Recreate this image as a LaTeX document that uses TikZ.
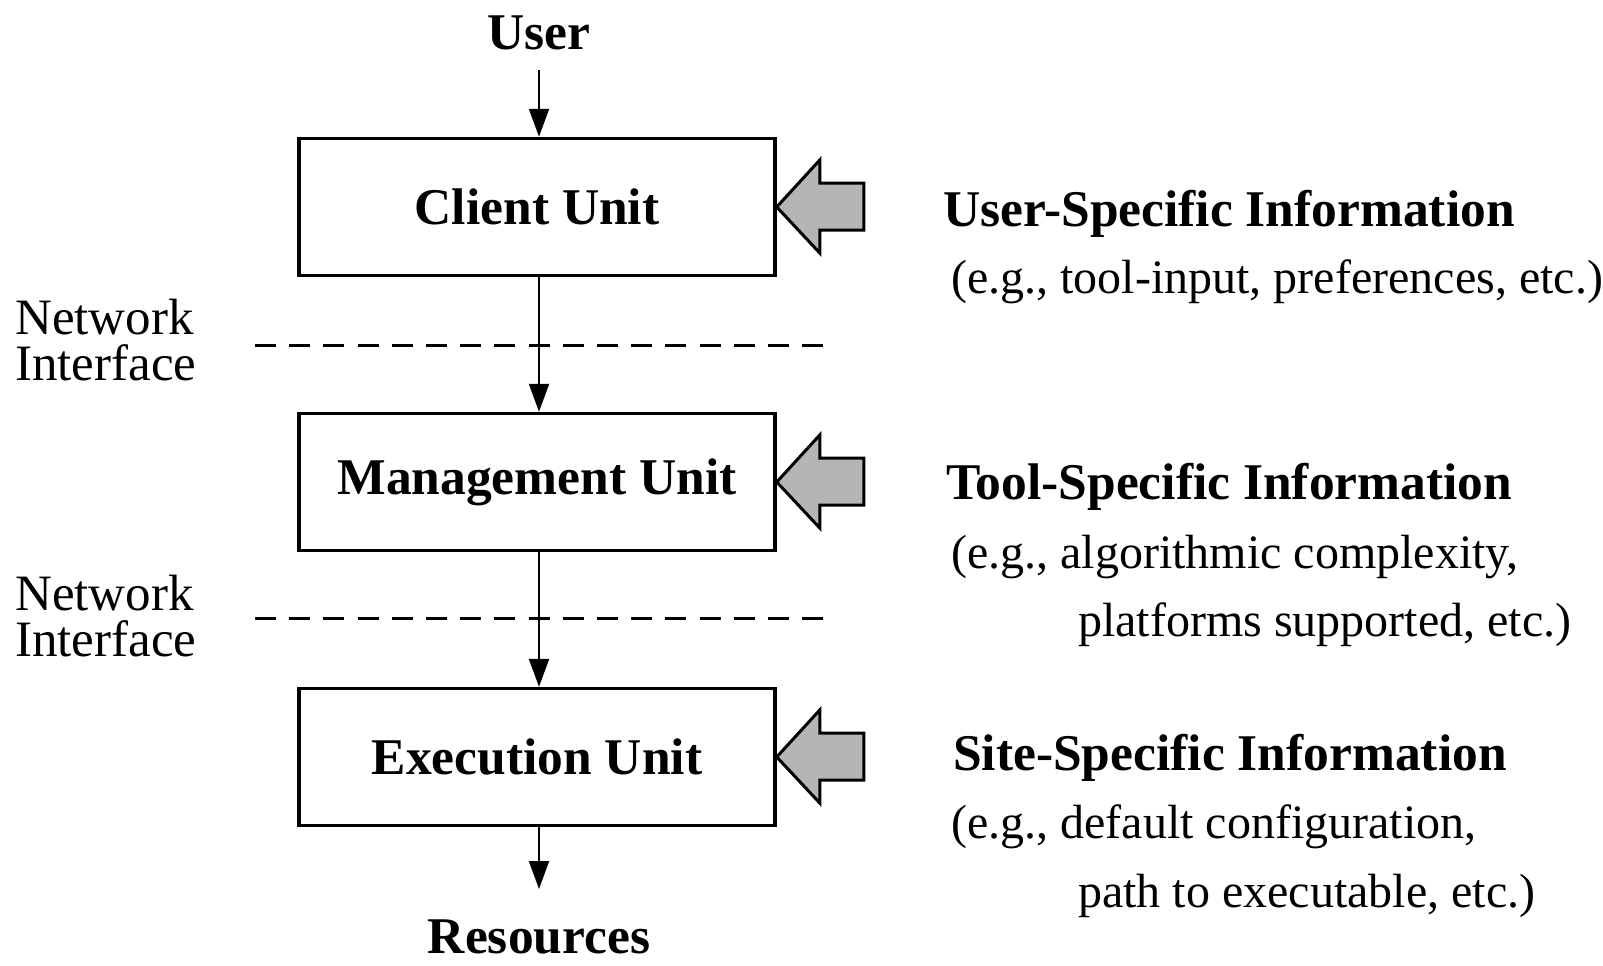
\documentclass[tikz,border=0pt]{standalone}
\usepackage{fontspec}
\setmainfont{Liberation Serif}
\usetikzlibrary{arrows.meta}
\tikzset{
  unitbox/.style={draw, line width=3.5pt, minimum width=476pt, minimum height=137pt, inner sep=0pt},
  flow/.style={line width=2.2pt, -{Triangle[width=20pt,length=28pt]}},
  netline/.style={line width=2.8pt, dash pattern=on 21pt off 13.2pt},
  title/.style={font=\fontsize{51.5}{55}\selectfont\bfseries, inner sep=0pt},
  info/.style={font=\fontsize{51.5}{55}\selectfont\bfseries, inner sep=0pt, anchor=base west},
  note/.style={font=\fontsize{48}{52}\selectfont, inner sep=0pt, anchor=base west},
  netlabel/.style={font=\fontsize{51}{55}\selectfont, inner sep=0pt, anchor=base west},
  feed/.style={draw, line width=3pt, fill=black!29, line join=miter}
}
\newcommand{\feedarrow}[1]{%
  \draw[feed] (#1.east) -- ++(43pt,-46pt) -- ++(0,23pt) -- ++(44pt,0) -- ++(0,47pt)
    -- ++(-44pt,0) -- ++(0,23pt) -- cycle;}
\begin{document}
\begin{tikzpicture}[x=1pt,y=-1pt]
  \useasboundingbox (0,0) rectangle (1603,966);

  % users and resources
  \node[title, anchor=base] (user) at (539,49) {User};
  \node[title, anchor=base] (res) at (539,953) {Resources};

  % the three units
  \node[unitbox, title] (client) at (537,207) {Client Unit};
  \node[unitbox, title] (mgmt) at (537,482) {Management Unit};
  \node[unitbox, title] (exec) at (537,757) {Execution Unit};

  % vertical flow
  \coordinate (uin) at (539,70);
  \coordinate (rout) at (539,889);
  \draw[flow] (uin) -- (uin |- client.north);
  \draw[flow] (client.south -| uin) -- (mgmt.north -| uin);
  \draw[flow] (mgmt.south -| uin) -- (exec.north -| uin);
  \draw[flow] (exec.south -| uin) -- (rout);

  % network interfaces
  \coordinate (n1a) at (255,345.5);
  \coordinate (n1b) at (823,345.5);
  \coordinate (n2a) at (255,618.5);
  \coordinate (n2b) at (823,618.5);
  \draw[netline] (n1a) -- (n1b);
  \draw[netline] (n2a) -- (n2b);
  \node[netlabel] (net1) at (15,334) {Network};
  \node[netlabel] (int1) at (15,380) {Interface};
  \node[netlabel] (net2) at (15,610) {Network};
  \node[netlabel] (int2) at (15,656) {Interface};

  % information fed into each unit
  \feedarrow{client}
  \feedarrow{mgmt}
  \feedarrow{exec}

  \node[info] (usi) at (943,226) {User-Specific Information};
  \node[note] (usn) at (951,293) {(e.g., tool-input, preferences, etc.)};

  \node[info] (tsi) at (946,499) {Tool-Specific Information};
  \node[note] (tsn1) at (951,568) {(e.g., algorithmic complexity,};
  \node[note] (tsn2) at (1078,636) {platforms supported, etc.)};

  \node[info] (ssi) at (953,770) {Site-Specific Information};
  \node[note] (ssn1) at (951,838) {(e.g., default configuration,};
  \node[note] (ssn2) at (1078,907) {path to executable, etc.)};
\end{tikzpicture}
\end{document}
